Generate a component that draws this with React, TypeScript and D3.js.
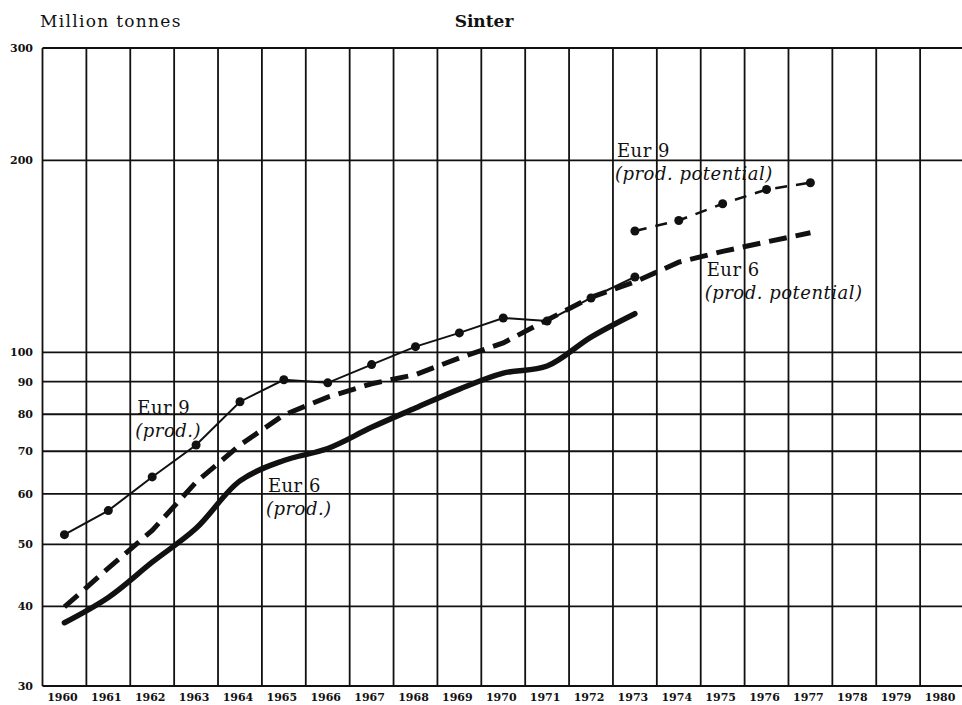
import React, { useEffect, useRef } from "react";
import * as d3 from "d3";

const years = d3.range(1960, 1981);
const yTicks = [30, 40, 50, 60, 70, 80, 90, 100, 200, 300];

const eur9ProdYears = d3.range(1960, 1974);
const eur9Prod = [51.8, 56.5, 63.8, 71.6, 83.7, 90.6, 89.6, 95.7, 102.1, 107.3, 113.2, 112, 121.7, 131.3];

const eur6ProdYears = d3.range(1960, 1974);
const eur6Prod = [37.7, 41.3, 46.9, 53.0, 62.9, 67.7, 70.7, 76.3, 81.8, 87.6, 92.8, 95.2, 105.7, 115];

const eur6PotYears = d3.range(1960, 1978);
const eur6Pot = [39.9, 45.9, 52.6, 62.6, 71.6, 79.8, 85.1, 89.3, 92.3, 98, 103.5, 112.4, 122, 129, 138.5, 144, 149, 154];

const eur9PotYears = d3.range(1973, 1978);
const eur9Pot = [155, 161, 171, 180, 184.5];

const W = 962;
const H = 705;
const SERIF = "'DejaVu Serif', serif";

const App = () => {
    const svgRef = useRef<SVGSVGElement | null>(null);

    useEffect(() => {
        if (!svgRef.current) return;
        const svg = d3.select(svgRef.current);
        svg.selectAll("*").remove();

        const x = d3.scaleBand<number>().domain(years).range([42.5, 964]).padding(0);
        const cx = (yr: number) => (x(yr) ?? 0) + x.bandwidth() / 2;
        const y = d3.scaleLog().domain([30, 300]).range([686, 48]);

        svg.append("rect").attr("width", W).attr("height", H).attr("fill", "#fff");

        // ── Grid ──────────────────────────────────────────────────────────
        const grid = svg.append("g").attr("stroke", "#111").attr("stroke-width", 1.8);
        years.concat([1981]).forEach((yr, i) => {
            const gx = i < years.length ? (x(yr) ?? 0) : 964;
            grid.append("line")
                .attr("x1", gx).attr("x2", gx)
                .attr("y1", y(300)).attr("y2", y(30));
        });
        yTicks.forEach(t => {
            grid.append("line")
                .attr("x1", 42.5).attr("x2", W)
                .attr("y1", y(t)).attr("y2", y(t));
        });

        // ── Axis labels ───────────────────────────────────────────────────
        yTicks.forEach(t => {
            svg.append("text")
                .attr("x", 33).attr("y", y(t) + 4)
                .attr("text-anchor", "end")
                .attr("font-family", SERIF).attr("font-weight", "700")
                .attr("font-size", "11px").attr("fill", "#111")
                .text(t);
        });
        years.forEach(yr => {
            svg.append("text")
                .attr("x", cx(yr) - 2).attr("y", 701)
                .attr("text-anchor", "middle")
                .attr("font-family", SERIF).attr("font-weight", "700")
                .attr("font-size", "11px").attr("fill", "#111")
                .text(yr);
        });

        svg.append("text")
            .attr("x", 40).attr("y", 27)
            .attr("font-family", SERIF).attr("font-size", "17px")
            .attr("letter-spacing", "1.3px").attr("fill", "#111")
            .text("Million tonnes");
        svg.append("text")
            .attr("x", 484).attr("y", 27)
            .attr("text-anchor", "middle")
            .attr("font-family", SERIF).attr("font-weight", "700")
            .attr("font-size", "17px").attr("fill", "#111")
            .text("Sinter");

        // ── Series ────────────────────────────────────────────────────────
        const pts = (yrs: number[], vals: number[]) => yrs.map((yr, i) => [cx(yr), y(vals[i])] as [number, number]);
        const lineLin = d3.line();
        const lineSmooth = d3.line().curve(d3.curveCatmullRom.alpha(0.5));

        // Eur 6 production potential (thick dashed)
        svg.append("path")
            .attr("d", lineLin(pts(eur6PotYears, eur6Pot)))
            .attr("fill", "none").attr("stroke", "#111")
            .attr("stroke-width", 5).attr("stroke-dasharray", "18,9");

        // Eur 6 production (thick solid)
        svg.append("path")
            .attr("d", lineSmooth(pts(eur6ProdYears, eur6Prod)))
            .attr("fill", "none").attr("stroke", "#111")
            .attr("stroke-width", 5.5).attr("stroke-linecap", "round");

        // Eur 9 production (thin solid + dots)
        svg.append("path")
            .attr("d", lineLin(pts(eur9ProdYears, eur9Prod)))
            .attr("fill", "none").attr("stroke", "#111").attr("stroke-width", 2);
        pts(eur9ProdYears, eur9Prod).forEach(([px, py]) => {
            svg.append("circle").attr("cx", px).attr("cy", py).attr("r", 4.5).attr("fill", "#111");
        });

        // Eur 9 production potential (thin dashed + dots)
        svg.append("path")
            .attr("d", lineLin(pts(eur9PotYears, eur9Pot)))
            .attr("fill", "none").attr("stroke", "#111")
            .attr("stroke-width", 2.5).attr("stroke-dasharray", "12,9");
        pts(eur9PotYears, eur9Pot).forEach(([px, py]) => {
            svg.append("circle").attr("cx", px).attr("cy", py).attr("r", 4.5).attr("fill", "#111");
        });

        // ── Series labels ─────────────────────────────────────────────────
        const label = (lx: number, ly: number, main: string, sub: string) => {
            svg.append("text")
                .attr("x", lx).attr("y", ly)
                .attr("font-family", SERIF).attr("font-size", "18px")
                .attr("letter-spacing", "0.5px").attr("fill", "#111")
                .text(main);
            svg.append("text")
                .attr("x", lx - 2).attr("y", ly + 23)
                .attr("font-family", SERIF).attr("font-style", "italic")
                .attr("font-size", "18px").attr("letter-spacing", "0.5px").attr("fill", "#111")
                .text(sub);
        };
        label((x(1962) ?? 0) + 7, y(80), "Eur 9", "(prod.)");
        label((x(1965) ?? 0) + 6, y(60) - 2, "Eur 6", "(prod.)");
        label((x(1973) ?? 0) + 4, y(200) - 3, "Eur 9", "(prod. potential)");
        label((x(1975) ?? 0) + 6, y(130) - 4, "Eur 6", "(prod. potential)");
    }, []);

    return (
        <svg
            ref={svgRef}
            width={W}
            height={H}
            style={{ position: "absolute", left: 0, top: 0, display: "block" }}
        />
    );
};

export default App;
